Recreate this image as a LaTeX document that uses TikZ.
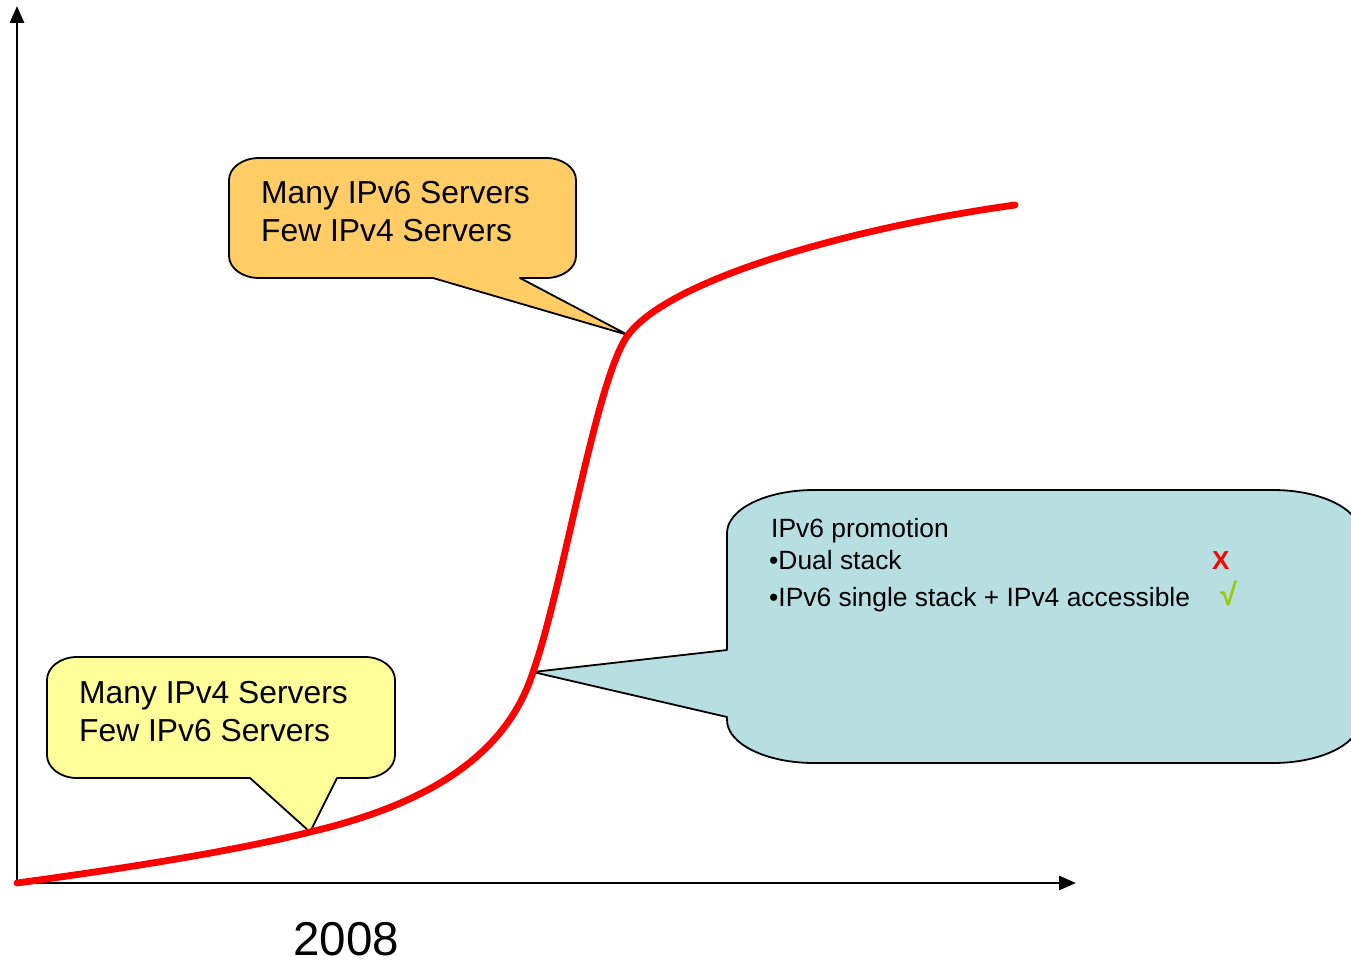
\documentclass[tikz,border=0pt]{standalone}
\usepackage{fontspec}
\setmainfont{Liberation Sans}
\usetikzlibrary{arrows.meta}
\definecolor{calloutorange}{RGB}{255,204,102}
\definecolor{calloutyellow}{RGB}{255,255,153}
\definecolor{calloutblue}{RGB}{183,222,225}
\definecolor{okgreen}{RGB}{153,204,0}
\tikzset{
  axis/.style={line width=2.9pt, -{Triangle[length=17pt,width=14pt]}},
  growth/.style={draw=red, line width=6.8pt, line cap=round},
  callout/.style={draw=black, line width=1.8pt, line join=round},
  bigtext/.style={anchor=base west, inner sep=0pt, font=\fontsize{31.8}{38}\selectfont, align=left},
  smalltext/.style={anchor=base west, inner sep=0pt, font=\fontsize{26.4}{31}\selectfont},
}
\begin{document}
\begin{tikzpicture}[x=1pt, y=-1pt]
  \useasboundingbox (0,0) rectangle (1351,963);
  \clip (0,0) rectangle (1351,963);
  \fill[white] (0,0) rectangle (1351,963);

  % points on the adoption curve where the callouts point
  \coordinate (origin) at (17,883);
  \coordinate (early) at (310,832);
  \coordinate (mid) at (533,672);
  \coordinate (late) at (628,335);
  \coordinate (saturation) at (1015,205);
  \coordinate (ytip) at (17,6);
  \coordinate (xtip) at (1076,883);

  % axes
  \draw[axis] (origin) -- (ytip);
  \draw[axis] (origin) -- (xtip);

  % callout: early phase
  \path[callout, fill=calloutyellow]
    (47,680) arc[start angle=180, end angle=270, x radius=30, y radius=23]
    -- (365,657) arc[start angle=270, end angle=360, x radius=30, y radius=23]
    -- (395,755) arc[start angle=0, end angle=90, x radius=30, y radius=23]
    -- (337,778) -- (early) -- (250,778)
    -- (77,778) arc[start angle=90, end angle=180, x radius=30, y radius=23]
    -- cycle;

  % callout: late phase
  \path[callout, fill=calloutorange]
    (229,180) arc[start angle=180, end angle=270, x radius=30, y radius=22]
    -- (546,158) arc[start angle=270, end angle=360, x radius=30, y radius=22]
    -- (576,256) arc[start angle=0, end angle=90, x radius=30, y radius=22]
    -- (520,278) -- (late) -- (433,278)
    -- (259,278) arc[start angle=90, end angle=180, x radius=30, y radius=22]
    -- cycle;

  % callout: promotion
  \path[callout, fill=calloutblue]
    (727,533) arc[start angle=180, end angle=270, x radius=87, y radius=43]
    -- (1273,490) arc[start angle=270, end angle=360, x radius=87, y radius=43]
    -- (1360,720) arc[start angle=0, end angle=90, x radius=87, y radius=43]
    -- (814,763) arc[start angle=90, end angle=180, x radius=87, y radius=43]
    -- (727,717) -- (mid) -- (727,650)
    -- cycle;

  % adoption curve (S-shaped)
  \draw[growth] (origin)
    .. controls (120,869) and (230,852) .. (early)
    .. controls (420,806) and (505,760) .. (mid)
    .. controls (563,588) and (596,378) .. (late)
    .. controls (670,279) and (850,228) .. (saturation);

  % texts
  \node[bigtext] (lateText) at (261,241) {Many IPv6 Servers\\Few IPv4 Servers};
  \node[bigtext] (earlyText) at (79,741) {Many IPv4 Servers\\Few IPv6 Servers};
  \node[smalltext] (promo) at (771,537) {IPv6 promotion};
  \node[smalltext] (dual) at (769,569) {•Dual stack};
  \node[smalltext] (single) at (769,606) {•IPv6 single stack + IPv4 accessible};
  \node[anchor=base west, inner sep=0pt, text=red, font=\fontsize{26}{26}\selectfont\bfseries] (cross) at (1212,569) {X};
  \node[anchor=base west, inner sep=0pt, text=okgreen, font=\fontsize{31}{31}\selectfont\bfseries] (tick) at (1220,605) {√};
  \node[anchor=base west, inner sep=0pt, font=\fontsize{47.5}{47.5}\selectfont] (year) at (293,955) {2008};
\end{tikzpicture}
\end{document}
